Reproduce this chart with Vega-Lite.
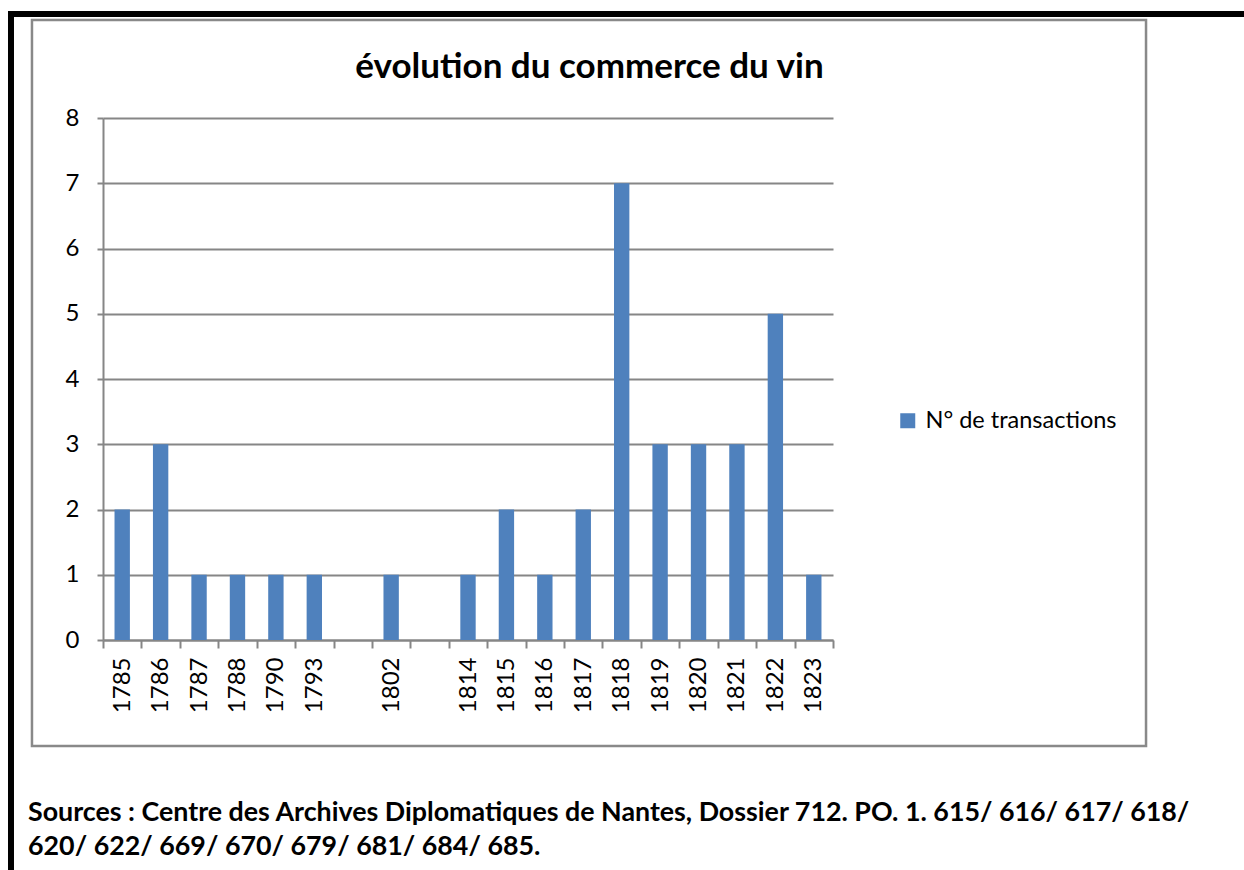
{
  "$schema": "https://vega.github.io/schema/vega-lite/v6.json",
  "width": 730,
  "height": 522,
  "autosize": {"type": "none"},
  "padding": {"left": 103, "top": 118, "right": 411, "bottom": 230},
  "background": "white",
  "config": {"view": {"stroke": null}, "font": "Lato", "text": {"font": "Lato"}},
  "layer": [
    {
      "data": {"values": [
        {"annee": "1785", "n": 2},
        {"annee": "1786", "n": 3},
        {"annee": "1787", "n": 1},
        {"annee": "1788", "n": 1},
        {"annee": "1790", "n": 1},
        {"annee": "1793", "n": 1},
        {"annee": "1802", "n": 1},
        {"annee": "1814", "n": 1},
        {"annee": "1815", "n": 2},
        {"annee": "1816", "n": 1},
        {"annee": "1817", "n": 2},
        {"annee": "1818", "n": 7},
        {"annee": "1819", "n": 3},
        {"annee": "1820", "n": 3},
        {"annee": "1821", "n": 3},
        {"annee": "1822", "n": 5},
        {"annee": "1823", "n": 1}
      ]},
      "mark": {"type": "bar", "width": {"band": 0.4}},
      "encoding": {
        "x": {
          "field": "annee", "type": "nominal",
          "scale": {"domain": ["1785","1786","1787","1788","1790","1793","g1","1802","g2","1814","1815","1816","1817","1818","1819","1820","1821","1822","1823"], "paddingInner": 0, "paddingOuter": 0},
          "axis": {"title": null, "labelAngle": 270, "tickBand": "extent", "labelExpr": "length(datum.label) < 4 ? '' : datum.label", "labelFontSize": 24, "labelColor": "black", "tickSize": 8, "tickColor": "#868686", "tickWidth": 2, "domainColor": "#868686", "domainWidth": 2, "labelPadding": 9, "grid": false}
        },
        "y": {
          "field": "n", "type": "quantitative",
          "scale": {"domain": [0, 8], "nice": false},
          "axis": {"title": null, "values": [0,1,2,3,4,5,6,7,8], "format": "d", "grid": true, "gridColor": "#868686", "gridWidth": 2, "domainColor": "#868686", "domainWidth": 2, "tickColor": "#868686", "tickWidth": 2, "tickSize": 6, "labelFontSize": 24, "labelColor": "black", "labelPadding": 18}
        },
        "color": {
          "datum": "N° de transactions", "type": "nominal",
          "scale": {"range": ["#4F81BD"]},
          "legend": {"orient": "none", "legendX": 793, "legendY": 291, "title": null, "symbolType": "square", "symbolSize": 225, "symbolStrokeWidth": 0, "labelFontSize": 23.5, "labelLimit": 400, "labelColor": "black", "labelOffset": 6, "padding": 0}
        }
      }
    },
    {
      "data": {"values": [{}]},
      "mark": {"type": "rect", "fill": null, "stroke": "#898989", "strokeWidth": 2.5},
      "encoding": {
        "x": {"datum": -0.0973, "type": "quantitative", "scale": {"domain": [0, 1], "nice": false, "zero": false}, "axis": null},
        "x2": {"datum": 1.4288},
        "y": {"datum": 9.502, "type": "quantitative", "scale": {"domain": [0, 8], "nice": false}},
        "y2": {"datum": -1.6245}
      }
    },
    {
      "data": {"values": [{}]},
      "mark": {"type": "rule", "color": "black", "strokeWidth": 6},
      "encoding": {
        "x": {"datum": -0.12603, "type": "quantitative", "scale": {"domain": [0, 1], "nice": false, "zero": false}, "axis": null},
        "y": {"datum": 9.6398, "type": "quantitative", "scale": {"domain": [0, 8], "nice": false}},
        "y2": {"datum": -3.6}
      }
    },
    {
      "data": {"values": [{}]},
      "mark": {"type": "rule", "color": "black", "strokeWidth": 6},
      "encoding": {
        "x": {"datum": -0.1301, "type": "quantitative", "scale": {"domain": [0, 1], "nice": false, "zero": false}, "axis": null},
        "x2": {"datum": 1.6},
        "y": {"datum": 9.5939, "type": "quantitative", "scale": {"domain": [0, 8], "nice": false}}
      }
    },
    {
      "data": {"values": [{}]},
      "mark": {"type": "text", "text": "évolution du commerce du vin", "fontSize": 35, "fontWeight": "bold", "align": "center", "baseline": "alphabetic", "color": "black"},
      "encoding": {
        "x": {"datum": 0.6664, "type": "quantitative", "scale": {"domain": [0, 1], "nice": false, "zero": false}, "axis": null},
        "y": {"datum": 8.613, "type": "quantitative", "scale": {"domain": [0, 8], "nice": false}}
      }
    },
    {
      "data": {"values": [{}]},
      "mark": {"type": "text", "text": ["Sources : Centre des Archives Diplomatiques de Nantes, Dossier 712. PO. 1. 615/ 616/ 617/ 618/", "620/ 622/ 669/ 670/ 679/ 681/ 684/ 685."], "fontSize": 26.8, "fontWeight": "bold", "align": "left", "baseline": "alphabetic", "lineHeight": 34, "color": "black"},
      "encoding": {
        "x": {"datum": -0.1027, "type": "quantitative", "scale": {"domain": [0, 1], "nice": false, "zero": false}, "axis": null},
        "y": {"datum": -2.774, "type": "quantitative", "scale": {"domain": [0, 8], "nice": false}}
      }
    }
  ],
  "resolve": {"scale": {"x": "independent"}, "axis": {"x": "independent"}}
}
